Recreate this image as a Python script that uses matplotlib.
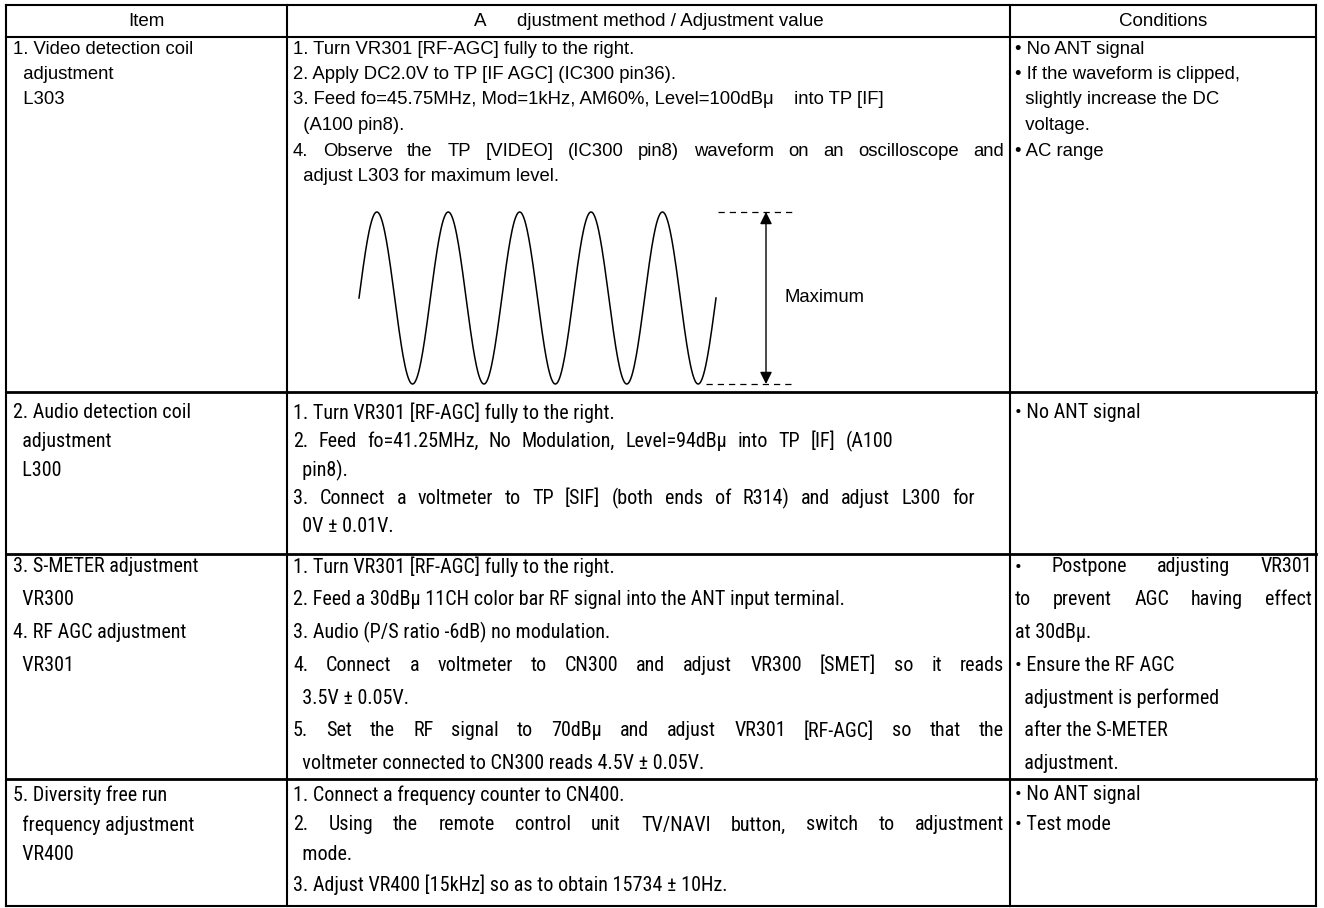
import numpy as np
import matplotlib.pyplot as plt
from matplotlib import font_manager

# Table content

headers = ["Item", "A      djustment method / Adjustment value", "Conditions"]

items = [
    ["1. Video detection coil", "  adjustment", "  L303"],
    ["2. Audio detection coil", "  adjustment", "  L300"],
    ["3. S-METER adjustment", "  VR300", "4. RF AGC adjustment", "  VR301"],
    ["5. Diversity free run", "  frequency adjustment", "  VR400"],
]

methods = [
    ["1. Turn VR301 [RF-AGC] fully to the right.",
     "2. Apply DC2.0V to TP [IF AGC] (IC300 pin36).",
     "3. Feed fo=45.75MHz, Mod=1kHz, AM60%, Level=100dB\u03bc    into TP [IF]",
     "  (A100 pin8).",
     "4. Observe the TP [VIDEO] (IC300 pin8) waveform on an oscilloscope and",
     "  adjust L303 for maximum level."],
    ["1. Turn VR301 [RF-AGC] fully to the right.",
     "2. Feed fo=41.25MHz, No Modulation, Level=94dB\u03bc into TP [IF] (A100",
     "  pin8).",
     "3. Connect a voltmeter to TP [SIF] (both ends of R314) and adjust L300 for",
     "  0V \u00b1 0.01V."],
    ["1. Turn VR301 [RF-AGC] fully to the right.",
     "2. Feed a 30dB\u03bc 11CH color bar RF signal into the ANT input terminal.",
     "3. Audio (P/S ratio -6dB) no modulation.",
     "4. Connect a voltmeter to CN300 and adjust VR300 [SMET] so it reads",
     "  3.5V \u00b1 0.05V.",
     "5. Set the RF signal to 70dB\u03bc and adjust VR301 [RF-AGC] so that the",
     "  voltmeter connected to CN300 reads 4.5V \u00b1 0.05V."],
    ["1. Connect a frequency counter to CN400.",
     "2. Using the remote control unit TV/NAVI button, switch to adjustment",
     "  mode.",
     "3. Adjust VR400 [15kHz] so as to obtain 15734 \u00b1 10Hz."],
]

conditions = [
    ["\u2022 No ANT signal",
     "\u2022 If the waveform is clipped,",
     "  slightly increase the DC",
     "  voltage.",
     "\u2022 AC range"],
    ["\u2022 No ANT signal"],
    ["\u2022 Postpone adjusting VR301",
     "to prevent AGC having effect",
     "at 30dB\u03bc.",
     "\u2022 Ensure the RF AGC",
     "  adjustment is performed",
     "  after the S-METER",
     "  adjustment."],
    ["\u2022 No ANT signal",
     "\u2022 Test mode"],
]

wave_label = "Maximum"
wave_cycles = 5

# Layout (pixels)
col_x = [6, 287, 1010, 1316]
row_y = [5, 37, 392, 554, 779, 906]
first_line = [49, 413, 567, 795]
line_step = [25.5, 28.5, 32.8, 30.0]
pads = [7, 6, 5]

# lines spread out to a right edge: (row, col, line) -> x end
spread = {
    (0, 1, 4): 1004,
    (1, 1, 1): 893, (1, 1, 3): 975,
    (2, 1, 3): 1004, (2, 1, 5): 1004,
    (2, 2, 0): 1312, (2, 2, 1): 1312,
    (3, 1, 1): 1004,
}

installed = {f.name for f in font_manager.fontManager.ttflist}
narrow_name = "Liberation Sans"
for cand in ["Liberation Sans Narrow", "Roboto Condensed", "Open Sans Condensed",
             "DejaVu Sans Condensed", "Noto Sans Condensed"]:
    if cand in installed:
        narrow_name = cand
        break

fig = plt.figure(figsize=(13.24, 9.08), dpi=100)
ax = fig.add_axes([0, 0, 1, 1])
ax.set_xlim(0, 1324)
ax.set_ylim(908, 0)
ax.axis("off")
renderer = fig.canvas.get_renderer()


def width_of(s, font):
    t = ax.text(0, 0, s, **font)
    w = t.get_window_extent(renderer).width
    t.remove()
    return w


def fit(family, sample, target):
    w = width_of(sample, dict(family=family, size=10))
    return dict(family=family, size=10 * target / w)


sample = "1. Turn VR301 [RF-AGC] fully to the right."
regular = fit("Liberation Sans", sample, 342)
narrow = fit(narrow_name, sample, 320)
header_font = dict(family="Liberation Sans", size=13.5)

# grid
for x in col_x:
    ax.plot([x, x], [row_y[0], row_y[-1]], color="black", lw=1.5, solid_capstyle="projecting")
for i, y in enumerate(row_y):
    lw = 1.5 if i in (0, 1, len(row_y) - 1) else 2.0
    ax.plot([col_x[0], col_x[-1]], [y, y], color="black", lw=lw, solid_capstyle="projecting")

# header
for i, h in enumerate(headers):
    ax.text((col_x[i] + col_x[i + 1]) / 2, (row_y[0] + row_y[1]) / 2 + 1, h,
            ha="center", va="center", **header_font)


def put_line(s, x0, y, font, x1=None):
    if x1 is None:
        ax.text(x0, y, s, ha="left", va="center", **font)
        return
    lead = len(s) - len(s.lstrip(" "))
    words = s.split()
    widths = [width_of(w, font) for w in words]
    space_w = width_of("a a", font) - width_of("aa", font)
    start = x0 + lead * space_w
    gap = max(space_w, (x1 - start - sum(widths)) / (len(words) - 1))
    x = start
    for w, wd in zip(words, widths):
        ax.text(x, y, w, ha="left", va="center", **font)
        x += wd + gap


for r in range(4):
    font = regular if r == 0 else narrow
    cells = [items[r], methods[r], conditions[r]]
    for c, lines in enumerate(cells):
        for k, s in enumerate(lines):
            y = first_line[r] + k * line_step[r]
            put_line(s, col_x[c] + pads[c], y, font, spread.get((r, c, k)))

# waveform illustration in row 1
wx0, wx1 = 359, 716
wy_top, wy_bot = 212, 384
xs = np.linspace(wx0, wx1, 600)
yc = (wy_top + wy_bot) / 2
amp = (wy_bot - wy_top) / 2
ys = yc - amp * np.sin(2 * np.pi * wave_cycles * (xs - wx0) / (wx1 - wx0))
ax.plot(xs, ys, color="black", lw=1.1)
ax.plot([wx1 + 2, 792], [wy_top, wy_top], color="black", lw=0.9, ls=(0, (5, 4)))
ax.plot([wx1 - 10, 792], [wy_bot, wy_bot], color="black", lw=0.9, ls=(0, (5, 4)))
ax.annotate("", xy=(766, wy_top), xytext=(766, wy_bot),
            arrowprops=dict(arrowstyle="<|-|>", color="black", lw=1.0,
                            mutation_scale=18, shrinkA=0, shrinkB=0))
ax.text(785, yc, wave_label, ha="left", va="center", **regular)

fig.savefig("out.png", dpi=100)
